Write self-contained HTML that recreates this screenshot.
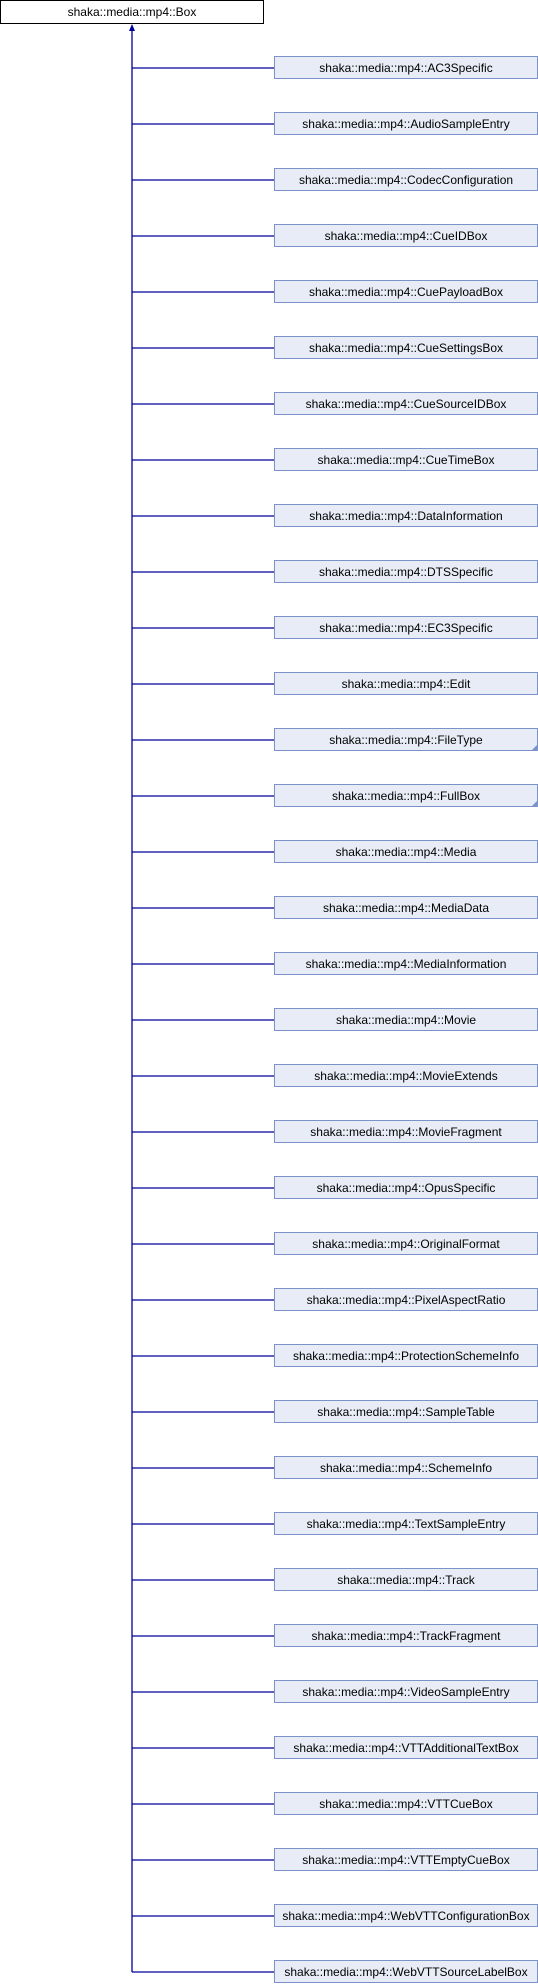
<!DOCTYPE html>
<html><head><meta charset="utf-8"><style>
html,body{margin:0;padding:0;background:#fff;width:538px;height:1984px;overflow:hidden}
svg text{font-family:"Liberation Sans",sans-serif;font-size:12px;fill:#000}
</style></head><body>
<svg id="s" width="538" height="1984" xmlns="http://www.w3.org/2000/svg">
<rect x="0.5" y="0.5" width="263" height="23" fill="#fff" stroke="#000"/>
<text x="132" y="16" text-anchor="middle">shaka::media::mp4::Box</text>
<line x1="132" y1="30" x2="132" y2="1972" stroke="#00009c" stroke-width="1.3"/>
<polygon points="132,24 129,31 135,31" fill="#00009c"/>
<g id="g"></g>
</svg>
<script>
var n=["AC3Specific","AudioSampleEntry","CodecConfiguration","CueIDBox","CuePayloadBox","CueSettingsBox","CueSourceIDBox","CueTimeBox","DataInformation","DTSSpecific","EC3Specific","Edit","FileType","FullBox","Media","MediaData","MediaInformation","Movie","MovieExtends","MovieFragment","OpusSpecific","OriginalFormat","PixelAspectRatio","ProtectionSchemeInfo","SampleTable","SchemeInfo","TextSampleEntry","Track","TrackFragment","VideoSampleEntry","VTTAdditionalTextBox","VTTCueBox","VTTEmptyCueBox","WebVTTConfigurationBox","WebVTTSourceLabelBox"];
var h="";
n.forEach(function(t,i){var y=56+i*56;
h+='<line x1="132" y1="'+(y+12)+'" x2="274" y2="'+(y+12)+'" stroke="#00009c" stroke-width="1.3"/>';
h+='<rect x="274.5" y="'+(y+0.5)+'" width="263" height="22" fill="#e8ecf6" stroke="#7b93c8"/>';
if(t=="FileType"||t=="FullBox")h+='<polygon points="537,'+(y+17)+' 537,'+(y+22)+' 532,'+(y+22)+'" fill="#7b93c8"/>';
h+='<text x="406" y="'+(y+16)+'" text-anchor="middle">shaka::media::mp4::'+t+'</text>';});
document.getElementById("g").innerHTML=h;
</script>
</body></html>
